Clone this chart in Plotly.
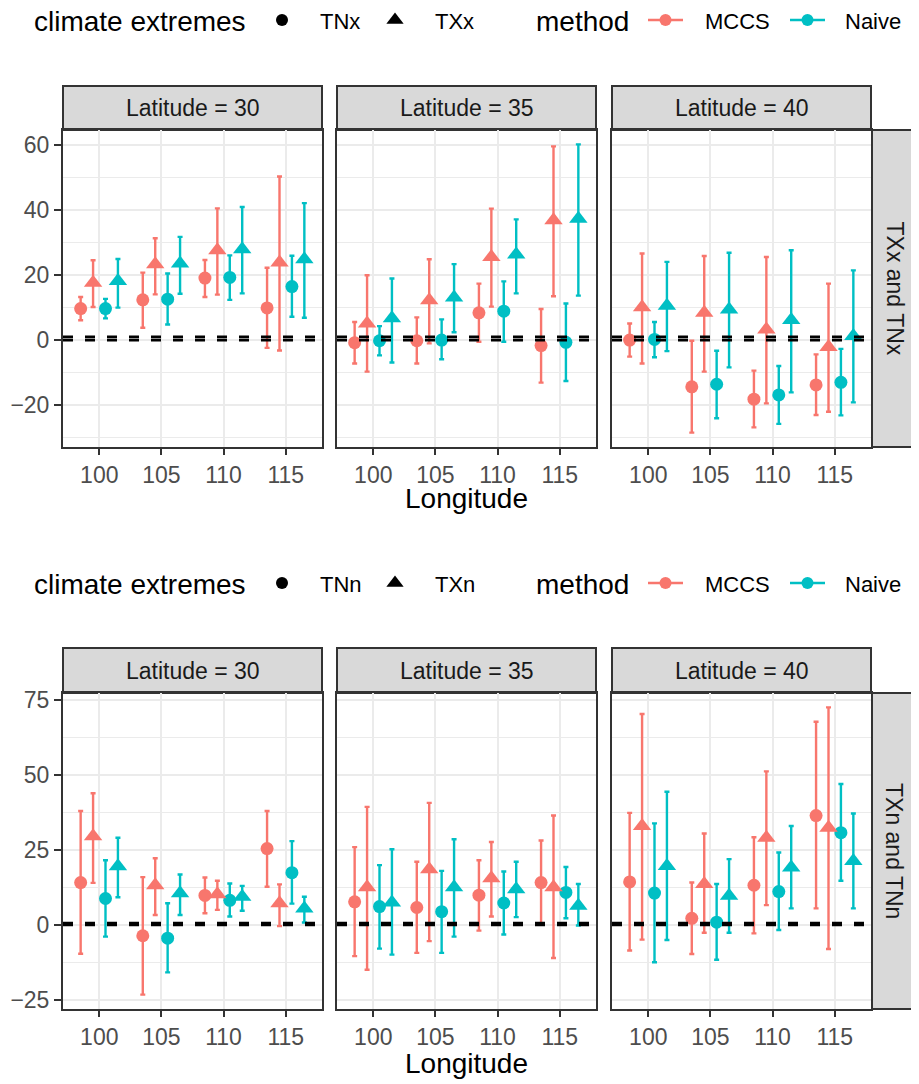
import plotly.graph_objects as go

# ---------------- data ----------------
longitudes = [100, 105, 110, 115]
latitudes = [30, 35, 40]
methods = ["MCCS", "Naive"]
top_extremes = ["TNx", "TXx"]
bottom_extremes = ["TNn", "TXn"]
row_labels = ["TXx and TNx", "TXn and TNn"]
ref_lines_top = [0, 1]
ref_lines_bottom = [0, 0.6]

# each list: 12 values = lat 30 (lon 100..115), lat 35, lat 40
TNx_MCCS_est = [9.7, 12.4, 19.1, 9.9, -0.8, -0.2, 8.4, -1.7, 0.0, -14.4, -18.2, -13.8]
TNx_MCCS_lo = [6.1, 3.8, 13.3, -2.4, -7.2, -7.2, -0.5, -13.1, -5.1, -28.5, -26.9, -23.1]
TNx_MCCS_hi = [13.3, 20.8, 24.7, 22.3, 5.6, 7.0, 17.4, 9.6, 5.1, -0.2, -9.4, -4.4]

TXx_MCCS_est = [17.7, 23.4, 27.7, 23.9, 5.1, 12.3, 25.6, 36.9, 10.1, 8.4, 3.3, -2.1]
TXx_MCCS_lo = [10.2, 14.1, 14.0, -3.2, -9.7, -1.0, 10.3, 13.5, -7.2, -9.7, -19.5, -22.1]
TXx_MCCS_hi = [24.6, 31.4, 40.6, 50.4, 20.0, 24.9, 40.5, 59.7, 26.7, 25.9, 25.6, 17.4]

TNx_Naive_est = [9.7, 12.6, 19.3, 16.5, -0.2, 0.0, 8.9, -0.7, 0.2, -13.6, -16.9, -13.0]
TNx_Naive_lo = [6.7, 4.8, 12.4, 7.2, -4.7, -5.9, -0.5, -12.6, -5.3, -24.1, -25.8, -23.2]
TNx_Naive_hi = [12.7, 20.5, 26.1, 26.0, 4.3, 6.4, 18.1, 11.3, 5.6, -3.3, -8.0, -2.7]

TXx_Naive_est = [18.2, 23.6, 28.0, 24.9, 6.7, 13.1, 26.4, 37.4, 10.6, 9.4, 6.2, 1.3]
TXx_Naive_lo = [10.0, 14.3, 14.4, 6.9, -6.9, 2.4, 14.4, 13.7, -3.4, -8.4, -16.1, -19.2]
TXx_Naive_hi = [25.0, 31.8, 41.0, 42.2, 19.0, 23.4, 37.2, 60.3, 24.1, 26.9, 27.7, 21.5]

TNn_MCCS_est = [14.1, -3.6, 9.8, 25.4, 7.7, 5.8, 9.9, 14.1, 14.3, 2.2, 13.2, 36.4]
TNn_MCCS_lo = [-9.6, -23.2, 3.9, 12.7, -10.4, -9.3, -1.9, 0.3, -8.5, -9.7, -2.8, 5.5]
TNn_MCCS_hi = [37.9, 15.9, 15.8, 37.9, 25.9, 21.0, 21.5, 28.1, 37.3, 14.1, 29.2, 67.6]

TXn_MCCS_est = [29.5, 13.2, 10.2, 7.2, 12.5, 18.5, 15.5, 12.5, 32.9, 13.6, 29.0, 32.3]
TXn_MCCS_lo = [14.0, 3.3, 5.0, -0.4, -14.9, -5.4, 2.8, -11.0, -4.9, -2.6, 6.6, -8.0]
TXn_MCCS_hi = [43.8, 22.2, 14.7, 13.5, 39.3, 40.6, 27.6, 36.4, 70.2, 30.4, 51.1, 72.4]

TNn_Naive_est = [8.8, -4.4, 8.2, 17.4, 6.1, 4.4, 7.3, 10.8, 10.6, 0.9, 11.1, 30.7]
TNn_Naive_lo = [-3.9, -15.8, 2.8, 7.1, -7.9, -9.3, -3.2, 2.2, -12.4, -11.6, -1.7, 14.7]
TNn_Naive_hi = [21.5, 7.2, 13.8, 27.9, 19.9, 18.0, 17.8, 19.3, 33.8, 13.6, 24.1, 46.9]

TXn_Naive_est = [19.5, 10.5, 9.4, 5.5, 7.5, 12.5, 11.9, 6.4, 19.6, 9.7, 19.1, 21.3]
TXn_Naive_lo = [9.2, 3.3, 4.7, 0.8, -9.9, -3.9, 2.6, -0.2, -5.0, -2.6, 5.5, 5.5]
TXn_Naive_hi = [29.0, 16.8, 13.0, 9.4, 25.2, 28.5, 21.0, 13.6, 44.3, 21.9, 32.9, 37.1]

series = {
    ("TNx", "MCCS"): (TNx_MCCS_est, TNx_MCCS_lo, TNx_MCCS_hi),
    ("TXx", "MCCS"): (TXx_MCCS_est, TXx_MCCS_lo, TXx_MCCS_hi),
    ("TNx", "Naive"): (TNx_Naive_est, TNx_Naive_lo, TNx_Naive_hi),
    ("TXx", "Naive"): (TXx_Naive_est, TXx_Naive_lo, TXx_Naive_hi),
    ("TNn", "MCCS"): (TNn_MCCS_est, TNn_MCCS_lo, TNn_MCCS_hi),
    ("TXn", "MCCS"): (TXn_MCCS_est, TXn_MCCS_lo, TXn_MCCS_hi),
    ("TNn", "Naive"): (TNn_Naive_est, TNn_Naive_lo, TNn_Naive_hi),
    ("TXn", "Naive"): (TXn_Naive_est, TXn_Naive_lo, TXn_Naive_hi),
}

# ---------------- style ----------------
SCREEN_W, SCREEN_H = 919, 1084
OFF = 8  # default page body margin
W, H = SCREEN_W - OFF, SCREEN_H - OFF
FONT = "Liberation Sans, Arial, Helvetica, sans-serif"
colors = {"MCCS": "#F8766D", "Naive": "#00BFC4"}
symbols = {0: "circle", 1: "triangle-up"}
msize = {0: 13, 1: 16}
dodge = {(0, "MCCS"): -1.5, (1, "MCCS"): -0.5, (0, "Naive"): 0.5, (1, "Naive"): 1.5}
BORDER = "#333333"
GRID = "#EBEBEB"
TICK_FS = 23
TITLE_FS = 28

# layout in screen pixels
panel_x = [(63, 322), (337, 596), (612, 871)]
row_y = [(130, 447), (693, 1009)]
strip_top = [86, 648]
right_strip_x = (872, 916)
xtitle_y = [498, 1063]
legend_y = [20, 583]
leg_title1_x = 32
leg_shape_x = [282, 395]
leg_shape_text_x = [318, 433]
leg_title2_x = 534
leg_line_x = [(648, 683), (790, 825)]
leg_line_text_x = [703, 843]


def px(x):
    return (x - OFF) / W


def py(y):
    return 1 - (y - OFF) / H


fig = go.Figure()
shapes = []
annotations = []
layout_axes = {}

for r, extremes in enumerate([top_extremes, bottom_extremes]):
    # y range from data, ggplot-style 5% expansion
    lows, highs = [], []
    for e in extremes:
        for m in methods:
            lows += series[(e, m)][1]
            highs += series[(e, m)][2]
    lo, hi = min(lows), max(highs)
    pad = 0.05 * (hi - lo)
    yrange = [lo - pad, hi + pad]
    dtick = 20 if r == 0 else 25
    ref_lines = ref_lines_top if r == 0 else ref_lines_bottom

    for c, lat in enumerate(latitudes):
        k = r * 3 + c + 1
        xa = "x" if k == 1 else f"x{k}"
        ya = "y" if k == 1 else f"y{k}"
        xname = "xaxis" if k == 1 else f"xaxis{k}"
        yname = "yaxis" if k == 1 else f"yaxis{k}"

        for ei, e in enumerate(extremes):
            for m in methods:
                est, low, up = series[(e, m)]
                yv = est[c * 4:(c + 1) * 4]
                lv = low[c * 4:(c + 1) * 4]
                uv = up[c * 4:(c + 1) * 4]
                xv = [lon + dodge[(ei, m)] for lon in longitudes]
                fig.add_trace(go.Scatter(
                    x=xv, y=yv, xaxis=xa, yaxis=ya, mode="markers",
                    marker=dict(symbol=symbols[ei], size=msize[ei], color=colors[m],
                                line=dict(width=0)),
                    error_y=dict(type="data", symmetric=False,
                                 array=[u - v for u, v in zip(uv, yv)],
                                 arrayminus=[v - l for v, l in zip(yv, lv)],
                                 color=colors[m], thickness=2.4, width=2.5),
                    showlegend=False, hoverinfo="skip",
                ))

        x0, x1 = panel_x[c]
        y0, y1 = row_y[r]
        layout_axes[xname] = dict(
            domain=[px(x0), px(x1)], anchor=ya, range=[97.08, 117.92],
            tickmode="array", tickvals=longitudes, ticktext=[str(v) for v in longitudes],
            showgrid=True, gridcolor=GRID, gridwidth=2.4,
            showline=True, mirror=True, linecolor=BORDER, linewidth=2,
            ticks="outside", ticklen=6, tickwidth=2, tickcolor=BORDER,
            tickfont=dict(size=TICK_FS, color="#4D4D4D", family=FONT),
            zeroline=False, automargin=False,
        )
        layout_axes[yname] = dict(
            domain=[py(y1), py(y0)], anchor=xa, range=yrange,
            dtick=dtick, tick0=0,
            showgrid=True, gridcolor=GRID, gridwidth=2.4,
            minor=dict(dtick=dtick / 2, tick0=0, showgrid=True, gridcolor=GRID, gridwidth=1.3),
            showline=True, mirror=True, linecolor=BORDER, linewidth=2,
            ticks="outside" if c == 0 else "", ticklen=7, tickwidth=2, tickcolor=BORDER,
            showticklabels=(c == 0),
            tickfont=dict(size=TICK_FS, color="#4D4D4D", family=FONT),
            zeroline=False, automargin=False,
        )
        # reference dashed lines
        for v in ref_lines:
            shapes.append(dict(type="line", xref=f"{xa} domain", x0=0, x1=1,
                               yref=ya, y0=v, y1=v, layer="above",
                               line=dict(color="black", width=2.6, dash="10px,12px")))
        # top strip
        shapes.append(dict(type="rect", xref="paper", yref="paper",
                           x0=px(x0), x1=px(x1), y0=py(y0), y1=py(strip_top[r]),
                           fillcolor="#D9D9D9", line=dict(color=BORDER, width=2), layer="below"))
        annotations.append(dict(xref="paper", yref="paper", x=px((x0 + x1) / 2),
                                y=py((y0 + strip_top[r]) / 2), text=f"Latitude = {lat}",
                                showarrow=False, xanchor="center", yanchor="middle",
                                font=dict(size=TICK_FS, color="#1A1A1A", family=FONT)))

    # right strip
    y0, y1 = row_y[r]
    shapes.append(dict(type="rect", xref="paper", yref="paper",
                       x0=px(right_strip_x[0]), x1=px(right_strip_x[1]), y0=py(y1), y1=py(y0),
                       fillcolor="#D9D9D9", line=dict(color=BORDER, width=2), layer="below"))
    annotations.append(dict(xref="paper", yref="paper", x=px(sum(right_strip_x) / 2),
                            y=py((y0 + y1) / 2), text=row_labels[r], textangle=90,
                            showarrow=False, xanchor="center", yanchor="middle",
                            font=dict(size=TICK_FS, color="#1A1A1A", family=FONT)))
    # x axis title
    annotations.append(dict(xref="paper", yref="paper", x=px((panel_x[0][0] + panel_x[2][1]) / 2),
                            y=py(xtitle_y[r]), text="Longitude", showarrow=False,
                            xanchor="center", yanchor="middle",
                            font=dict(size=TITLE_FS, color="black", family=FONT)))

    # ---- legends (keys on a full-page overlay axis + text annotations) ----
    ly = legend_y[r]
    annotations.append(dict(xref="paper", yref="paper", x=px(leg_title1_x), y=py(ly + 1),
                            text="climate extremes", showarrow=False, xanchor="left",
                            yanchor="middle", font=dict(size=TITLE_FS, color="black", family=FONT)))
    annotations.append(dict(xref="paper", yref="paper", x=px(leg_title2_x), y=py(ly + 1),
                            text="method", showarrow=False, xanchor="left",
                            yanchor="middle", font=dict(size=TITLE_FS, color="black", family=FONT)))
    for ei, e in enumerate(extremes):
        fig.add_trace(go.Scatter(x=[leg_shape_x[ei]], y=[ly], xaxis="x7", yaxis="y7",
                                 mode="markers", showlegend=False, hoverinfo="skip",
                                 marker=dict(symbol=symbols[ei], size=12 if ei == 0 else 15,
                                             color="black", line=dict(width=0))))
        annotations.append(dict(xref="paper", yref="paper", x=px(leg_shape_text_x[ei]), y=py(ly + 1),
                                text=e, showarrow=False, xanchor="left", yanchor="middle",
                                font=dict(size=TICK_FS - 1, color="black", family=FONT)))
    for mi, m in enumerate(methods):
        a, b = leg_line_x[mi]
        fig.add_trace(go.Scatter(x=[a, b], y=[ly, ly], xaxis="x7", yaxis="y7",
                                 mode="lines", showlegend=False, hoverinfo="skip",
                                 line=dict(color=colors[m], width=2.4)))
        fig.add_trace(go.Scatter(x=[(a + b) / 2], y=[ly], xaxis="x7", yaxis="y7",
                                 mode="markers", showlegend=False, hoverinfo="skip",
                                 marker=dict(symbol="circle", size=12, color=colors[m],
                                             line=dict(width=0))))
        annotations.append(dict(xref="paper", yref="paper", x=px(leg_line_text_x[mi]), y=py(ly + 1),
                                text=m, showarrow=False, xanchor="left", yanchor="middle",
                                font=dict(size=TICK_FS - 1, color="black", family=FONT)))

layout_axes["xaxis7"] = dict(domain=[0, 1], range=[OFF, SCREEN_W], visible=False, anchor="y7",
                             fixedrange=True, automargin=False)
layout_axes["yaxis7"] = dict(domain=[0, 1], range=[SCREEN_H, OFF], visible=False, anchor="x7",
                             fixedrange=True, automargin=False)

fig.update_layout(
    width=W, height=H,
    margin=dict(l=0, r=0, t=0, b=0, autoexpand=False),
    paper_bgcolor="white", plot_bgcolor="rgba(0,0,0,0)",
    font=dict(family=FONT),
    showlegend=False,
    shapes=shapes, annotations=annotations,
    **layout_axes,
)

fig.write_html("out.html")
